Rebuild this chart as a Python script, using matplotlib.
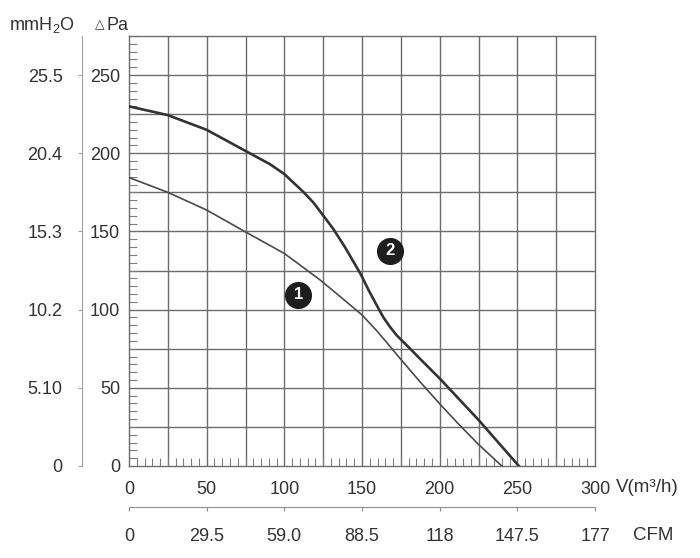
import matplotlib
matplotlib.use('Agg')
from matplotlib import rcParams
rcParams['font.family'] = ['Liberation Sans', 'DejaVu Sans']
rcParams['font.size'] = 13
rcParams['mathtext.default'] = 'regular'
import matplotlib.pyplot as plt
from matplotlib.ticker import MultipleLocator
import numpy as np

# curve 1 (lower, thin) - flow in m3/h vs pressure in Pa
flow_1 = [0, 25, 50, 75, 90.8, 100, 110, 123, 136, 150, 159.5, 167, 175, 187.4, 200, 212, 225, 240]
pa_1 = [184.5, 175, 163.7, 149.7, 141, 135.9, 128.6, 119, 108.3, 96.6, 86.5, 77.7, 68.2, 53.8, 39.8, 27, 13.8, 0]

# curve 2 (upper, thick)
flow_2 = [0, 25, 50, 75, 90.8, 100, 112, 118.7, 125.2, 131.6, 139, 144, 149, 154.5, 159.9,
          163.8, 168, 172.4, 181, 187.4, 200, 225, 251]
pa_2 = [230, 224.4, 215, 201.5, 193, 186.7, 175.5, 168.5, 160, 151.5, 140, 131.5, 123, 112, 102,
        95, 89, 83.5, 75, 68.5, 56, 29.5, 0]

# curve labels (x, Pa)
label_pos = {'1': (109, 109.5), '2': (168, 137.7)}

pa_ticks = [0, 50, 100, 150, 200, 250]
mmh2o_labels = ['0', '5.10', '10.2', '15.3', '20.4', '25.5']
v_ticks = [0, 50, 100, 150, 200, 250, 300]
cfm_labels = ['0', '29.5', '59.0', '88.5', '118', '147.5', '177']

txt = '#333333'
gridc = '#6c6c6c'

fig = plt.figure(figsize=(7, 5.58), dpi=100)
ax = fig.add_axes([129/700, 92/558, 466/700, 430/558])
ax.set_xlim(0, 300)
ax.set_ylim(0, 275)

# grid every 25
for gx in np.arange(25, 300, 25):
    ax.axvline(gx, color=gridc, lw=1.0, zorder=1)
for gy in np.arange(25, 275, 25):
    ax.axhline(gy, color=gridc, lw=1.0, zorder=1)
for s in ax.spines.values():
    s.set_color(gridc)
    s.set_linewidth(1.0)

ax.plot(flow_1, pa_1, color='#4a4a4a', lw=1.2, zorder=3, solid_joinstyle='round')
ax.plot(flow_2, pa_2, color='#333333', lw=1.9, zorder=3, solid_joinstyle='round')

for k, (lx, ly) in label_pos.items():
    ax.plot(lx, ly, 'o', ms=18.5, color='#1e1e1e', zorder=4)
    ax.text(lx, ly, k, color='white', fontsize=12, fontweight='bold',
            ha='center', va='center', zorder=5)

ax.xaxis.set_minor_locator(MultipleLocator(5))
ax.yaxis.set_minor_locator(MultipleLocator(5))
ax.set_yticks(pa_ticks)
ax.set_xticks(v_ticks)
ax.tick_params(which='major', length=0, colors=txt)
ax.tick_params(axis='x', which='major', pad=10.5)
ax.tick_params(axis='y', which='major', pad=6.5)
ax.tick_params(which='minor', direction='in', length=5.5, width=0.8, color='#808080')
ax.tick_params(which='minor', right=False, top=False)

# mmH2O scale
sec_y = ax.secondary_yaxis((82 - 129) / 466)
sec_y.set_yticks(pa_ticks)
sec_y.set_yticklabels(mmh2o_labels)
sec_y.spines['left'].set_color('#a0a0a0')
sec_y.tick_params(length=3, width=0.8, color='#a0a0a0', labelcolor=txt, pad=11)
sec_y.yaxis.set_minor_locator(plt.NullLocator())

# CFM scale
sec_x = ax.secondary_xaxis((466 - 507) / 430)
sec_x.set_xticks(v_ticks)
sec_x.set_xticklabels(cfm_labels)
sec_x.spines['bottom'].set_color('#909090')
sec_x.tick_params(length=3, width=0.8, color='#909090', labelcolor=txt, pad=12)
sec_x.xaxis.set_minor_locator(plt.NullLocator())

fig.text(42/700, 1 - 25/558, 'mmH$_2$O', color=txt, ha='center', va='center', fontsize=13)
fig.text(95/700, 1 - 25/558, '\u25b3', color=txt, ha='left', va='center', fontsize=9)
fig.text(107/700, 1 - 25/558, 'Pa', color=txt, ha='left', va='center', fontsize=13)
fig.text(616/700, 1 - 488/558, 'V(m\u00b3/h)', color=txt, ha='left', va='center', fontsize=13.5)
fig.text(633/700, 1 - 535/558, 'CFM', color=txt, ha='left', va='center', fontsize=13.5)

fig.savefig('out.png', dpi=100, facecolor='white')
